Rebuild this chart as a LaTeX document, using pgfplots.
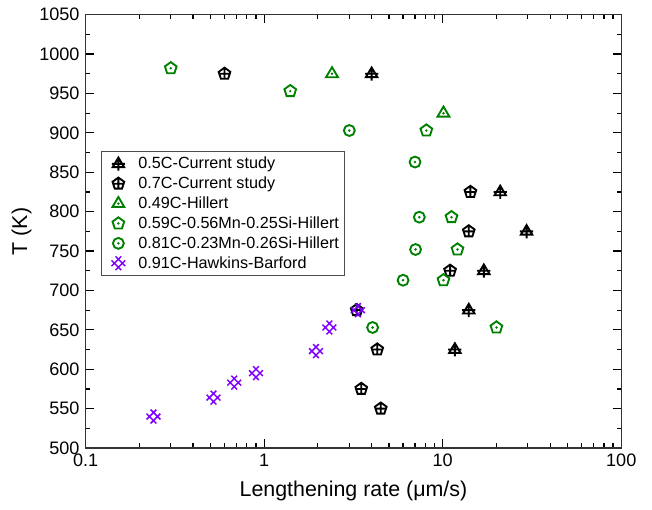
\documentclass[border=0pt]{standalone}
\usepackage{pgfplots}
\pgfplotsset{compat=1.18}
\usepackage{fontspec}
\setmainfont{Liberation Sans}
\definecolor{ogreen}{RGB}{0,128,0}
\definecolor{opurple}{RGB}{128,0,255}

\pgfdeclareplotmark{triplus}{%
  \pgfpathmoveto{\pgfqpoint{0pt}{1.05\pgfplotmarksize}}%
  \pgfpathlineto{\pgfqpoint{-0.95\pgfplotmarksize}{-0.55\pgfplotmarksize}}%
  \pgfpathlineto{\pgfqpoint{0.95\pgfplotmarksize}{-0.55\pgfplotmarksize}}%
  \pgfpathclose
  \pgfpathmoveto{\pgfqpoint{0pt}{-1.15\pgfplotmarksize}}%
  \pgfpathlineto{\pgfqpoint{0pt}{1.05\pgfplotmarksize}}%
  \pgfpathmoveto{\pgfqpoint{-1.1\pgfplotmarksize}{0pt}}%
  \pgfpathlineto{\pgfqpoint{1.1\pgfplotmarksize}{0pt}}%
  \pgfusepathqstroke}
\pgfdeclareplotmark{pentplus}{%
  \pgfpathmoveto{\pgfqpoint{0pt}{1\pgfplotmarksize}}%
  \pgfpathlineto{\pgfqpoint{-0.951\pgfplotmarksize}{0.309\pgfplotmarksize}}%
  \pgfpathlineto{\pgfqpoint{-0.588\pgfplotmarksize}{-0.809\pgfplotmarksize}}%
  \pgfpathlineto{\pgfqpoint{0.588\pgfplotmarksize}{-0.809\pgfplotmarksize}}%
  \pgfpathlineto{\pgfqpoint{0.951\pgfplotmarksize}{0.309\pgfplotmarksize}}%
  \pgfpathclose
  \pgfpathmoveto{\pgfqpoint{0pt}{-0.9\pgfplotmarksize}}%
  \pgfpathlineto{\pgfqpoint{0pt}{1\pgfplotmarksize}}%
  \pgfpathmoveto{\pgfqpoint{-0.95\pgfplotmarksize}{0pt}}%
  \pgfpathlineto{\pgfqpoint{0.95\pgfplotmarksize}{0pt}}%
  \pgfusepathqstroke}
\pgfdeclareplotmark{tridot}{%
  \pgfpathmoveto{\pgfqpoint{0pt}{1.05\pgfplotmarksize}}%
  \pgfpathlineto{\pgfqpoint{-0.95\pgfplotmarksize}{-0.55\pgfplotmarksize}}%
  \pgfpathlineto{\pgfqpoint{0.95\pgfplotmarksize}{-0.55\pgfplotmarksize}}%
  \pgfpathclose
  \pgfusepathqstroke
  \pgfpathcircle{\pgfpointorigin}{0.22\pgfplotmarksize}%
  \pgfusepathqfill}
\pgfdeclareplotmark{pentdot}{%
  \pgfpathmoveto{\pgfqpoint{0pt}{1\pgfplotmarksize}}%
  \pgfpathlineto{\pgfqpoint{-0.951\pgfplotmarksize}{0.309\pgfplotmarksize}}%
  \pgfpathlineto{\pgfqpoint{-0.588\pgfplotmarksize}{-0.809\pgfplotmarksize}}%
  \pgfpathlineto{\pgfqpoint{0.588\pgfplotmarksize}{-0.809\pgfplotmarksize}}%
  \pgfpathlineto{\pgfqpoint{0.951\pgfplotmarksize}{0.309\pgfplotmarksize}}%
  \pgfpathclose
  \pgfusepathqstroke
  \pgfpathcircle{\pgfpointorigin}{0.22\pgfplotmarksize}%
  \pgfusepathqfill}
\pgfdeclareplotmark{circdot}{%
  \pgfpathcircle{\pgfpointorigin}{0.85\pgfplotmarksize}%
  \pgfusepathqstroke
  \pgfpathcircle{\pgfpointorigin}{0.22\pgfplotmarksize}%
  \pgfusepathqfill}
\pgfdeclareplotmark{xhatch}{%
  \pgfpathmoveto{\pgfqpoint{-1.2\pgfplotmarksize}{-0.5\pgfplotmarksize}}%
  \pgfpathlineto{\pgfqpoint{0.5\pgfplotmarksize}{1.2\pgfplotmarksize}}%
  \pgfpathmoveto{\pgfqpoint{-0.5\pgfplotmarksize}{-1.2\pgfplotmarksize}}%
  \pgfpathlineto{\pgfqpoint{1.2\pgfplotmarksize}{0.5\pgfplotmarksize}}%
  \pgfpathmoveto{\pgfqpoint{-1.2\pgfplotmarksize}{0.5\pgfplotmarksize}}%
  \pgfpathlineto{\pgfqpoint{0.5\pgfplotmarksize}{-1.2\pgfplotmarksize}}%
  \pgfpathmoveto{\pgfqpoint{-0.5\pgfplotmarksize}{1.2\pgfplotmarksize}}%
  \pgfpathlineto{\pgfqpoint{1.2\pgfplotmarksize}{-0.5\pgfplotmarksize}}%
  \pgfusepathqstroke}

\begin{document}
\begin{tikzpicture}
\begin{axis}[
  width=400.5pt, height=324pt, scale only axis,
  xmode=log, xmin=0.1, xmax=100, ymin=500, ymax=1050,
  xtick={0.1,1,10,100}, xticklabels={0.1,1,10,100},
  ytick={500,550,600,650,700,750,800,850,900,950,1000,1050},
  yticklabels={500,550,600,650,700,750,800,850,900,950,1000,1050},
  minor y tick num=1,
  tick align=inside, major tick length=6.5pt, minor tick length=3.5pt,
  tick style={line width=0.9pt, black},
  axis line style={line width=1pt, black!80},
  tick label style={font=\fontsize{13.5}{16}\selectfont},
  yticklabel style={xshift=-1pt},
  xticklabel style={yshift=-1pt},
  label style={font=\fontsize{16}{19}\selectfont},
  xlabel={Lengthening rate (μm/s)},
  ylabel={T (K)},
  ylabel style={yshift=-1pt},
  xlabel style={yshift=-4pt},
  every axis plot/.append style={only marks, line width=1.4pt},
  legend style={at={(0.028,0.685)}, anchor=north west, draw=black!70, line width=0.6pt,
    font=\fontsize{12.1}{14}\selectfont, row sep=0.6pt, inner xsep=2pt, inner ysep=2pt},
  legend cell align=left,
  legend image code/.code={\path[draw=none] (0pt,0pt) -- (24pt,0pt);
    \draw[#1] plot coordinates {(11pt,0pt)};},
]
\addplot[black, mark=triplus, mark size=4.5pt] coordinates {
 (4.0,975) (21,825) (29.5,775) (17,725) (14,675) (11.7,625)};
\addlegendentry{0.5C-Current study}
\addplot[black, mark=pentplus, mark size=4.6pt] coordinates {
 (0.6,975) (14.3,825) (14,775) (11,725) (3.3,675) (4.3,625) (3.5,575) (4.5,550)};
\addlegendentry{0.7C-Current study}
\addplot[ogreen, mark=tridot, mark size=4.7pt] coordinates {
 (2.4,975) (10.1,925)};
\addlegendentry{0.49C-Hillert}
\addplot[ogreen, mark=pentdot, mark size=4.6pt] coordinates {
 (0.30,982) (1.4,953) (8.1,903) (11.2,793) (12.1,752) (10.1,713) (20,653)};
\addlegendentry{0.59C-0.56Mn-0.25Si-Hillert}
\addplot[ogreen, mark=circdot, mark size=4.8pt] coordinates {
 (3.0,903) (7.0,863) (7.4,793) (7.05,752) (6.0,713) (4.05,653)};
\addlegendentry{0.81C-0.23Mn-0.26Si-Hillert}
\addplot[opurple, mark=xhatch, mark size=4.3pt, line width=1.1pt] coordinates {
 (0.24,540) (0.52,564) (0.68,583) (0.9,595) (1.95,623) (2.32,653) (3.35,675)};
\addlegendentry{0.91C-Hawkins-Barford}
\end{axis}
\path ([xshift=23pt,yshift=11pt]current axis.north east);
\path ([xshift=-64pt,yshift=-45.6pt]current axis.south west);
\end{tikzpicture}
\end{document}
